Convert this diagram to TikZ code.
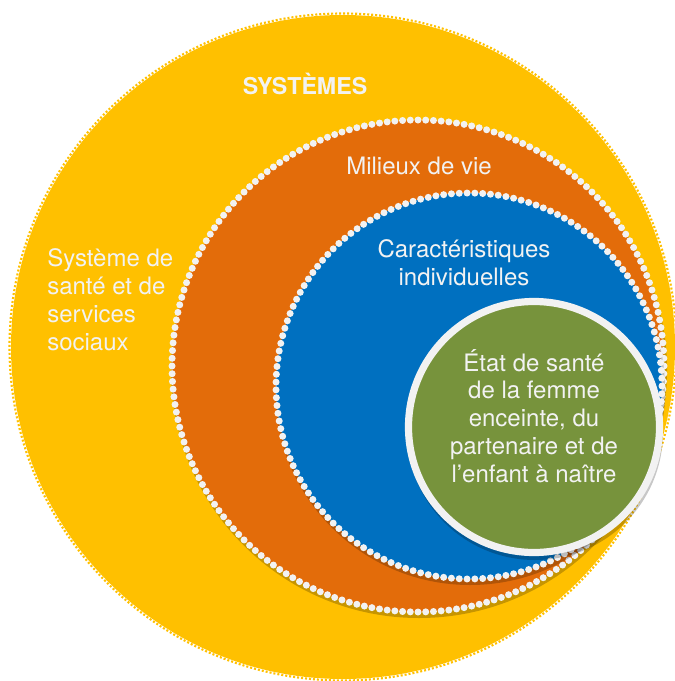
\documentclass[tikz,border=0pt]{standalone}
\usepackage{fontspec}
\setmainfont{TeX Gyre Heros}
\usetikzlibrary{calc}
\definecolor{sysyellow}{HTML}{FFC000}
\definecolor{milieu}{HTML}{E36C0A}
\definecolor{indiv}{HTML}{0070C0}
\definecolor{etatg}{HTML}{77933C}
\definecolor{dotc}{HTML}{F2F2F2}
\tikzset{
  txt/.style={text=dotc, font=\fontsize{18}{20.8}\selectfont, inner sep=0pt},
  ringdot/.style={fill=dotc},
  shade/.style={fill=black, opacity=0.22}
}
\begin{document}
\begin{tikzpicture}[x=0.75pt,y=-0.75pt]
\useasboundingbox (0,0) rectangle (674,681);
\coordinate (cY) at (343,347);
\coordinate (cO) at (418,366);
\coordinate (cB) at (469,386);
\coordinate (cG) at (534,427);
% outer ring
\fill[sysyellow] (cY) circle (332);
\draw[sysyellow, line width=1.6pt, dash pattern=on 1.5pt off 1.5pt] (cY) circle (333.5);
% orange ring
\fill[shade] ($(cO)+(1,4)$) circle (248);
\fill[milieu] (cO) circle (246);
\foreach \i in {0,...,199} \fill[ringdot] ($(cO)+({\i*1.8}:246)$) circle (3.5);
% blue ring
\fill[shade] ($(cB)+(1,4)$) circle (195);
\fill[indiv] (cB) circle (193);
\foreach \i in {0,...,154} \fill[ringdot] ($(cB)+({\i*2.32258}:193)$) circle (3.5);
% green core
\fill[shade] ($(cG)+(1,5)$) circle (128);
\fill[etatg] (cG) circle (126);
\draw[dotc, line width=5.4pt] (cG) circle (125.5);
% texts
\node[txt, anchor=base, font=\fontsize{17.4}{20}\selectfont\bfseries] (sys) at (305,95) {SYSTÈMES};
\node[txt, align=left, anchor=base west] (ssss) at (47,350) {Système de\\santé et de\\services\\sociaux};
\node[txt, anchor=base] (mil) at (419,174) {Milieux de vie};
\node[txt, align=center, anchor=base] (car) at (464,285) {Caractéristiques\\individuelles};
\node[txt, align=center, anchor=base] (etat) at (534,482) {État de santé\\de la femme\\enceinte, du\\partenaire et de\\l’enfant à naître};
\end{tikzpicture}
\end{document}
